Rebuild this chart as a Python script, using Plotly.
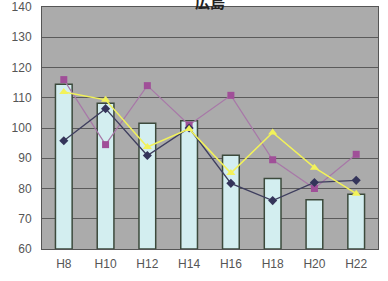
import plotly.graph_objects as go

categories = ["H8", "H10", "H12", "H14", "H16", "H18", "H20", "H22"]
bar_values = [114.5, 108.2, 101.6, 102.4, 91.0, 83.3, 76.3, 78.1]
pink_values = [116.0, 94.5, 114.0, 101.0, 110.8, 89.5, 80.0, 91.3]
navy_values = [95.8, 106.4, 90.9, 100.0, 81.7, 76.0, 82.0, 82.7]
yellow_values = [111.9, 109.3, 93.7, 99.7, 85.1, 98.5, 86.9, 78.3]
y_ticks = [60, 70, 80, 90, 100, 110, 120, 130, 140]
title_text = "広島"

fig = go.Figure()
fig.add_trace(go.Bar(
    x=categories, y=[v - 60 for v in bar_values], base=60, width=0.4,
    marker=dict(color="#d3eef0", line=dict(color="#3c4a3c", width=1.5)),
    showlegend=False,
))
fig.add_trace(go.Scatter(
    x=categories, y=pink_values, mode="lines+markers",
    line=dict(color="#a878a8", width=1.2),
    marker=dict(symbol="square", size=7, color="#a04f98"),
    showlegend=False,
))
fig.add_trace(go.Scatter(
    x=categories, y=navy_values, mode="lines+markers",
    line=dict(color="#3e3e5e", width=1.3),
    marker=dict(symbol="diamond", size=7, color="#34345a"),
    showlegend=False,
))
fig.add_trace(go.Scatter(
    x=categories, y=yellow_values, mode="lines+markers",
    line=dict(color="#f2f25a", width=1.5),
    marker=dict(symbol="triangle-up", size=8, color="#f2f25a"),
    showlegend=False,
))

fig.add_annotation(
    text="<b>" + title_text + "</b>", xref="paper", yref="paper", x=0.5, y=1.024,
    xanchor="center", yanchor="middle", showarrow=False,
    font=dict(family="Noto Sans CJK JP", size=15, color="#222222"),
)

fig.update_layout(
    width=388, height=281,
    margin=dict(l=42, r=10, t=7, b=31.5, autoexpand=False),
    paper_bgcolor="white", plot_bgcolor="#ababab",
    font=dict(family="Liberation Sans, Arial", size=12, color="#555555"),
    bargap=0.6,
)
fig.update_xaxes(
    showgrid=False, showline=True, linecolor="#555555", linewidth=1, mirror=True,
    ticks="", ticklabelstandoff=4, tickfont=dict(size=12, color="#555555"),
    automargin=False,
)
fig.update_yaxes(
    range=[60, 140], tickvals=y_ticks, showgrid=True, gridcolor="#5a5a5a", gridwidth=1,
    showline=True, linecolor="#555555", linewidth=1, mirror=True,
    ticks="", ticklabelstandoff=7, tickfont=dict(size=12, color="#555555"),
    zeroline=False, automargin=False,
)

fig.write_html(
    "out.html",
    config={"displayModeBar": False, "staticPlot": True},
    post_script="document.body.style.margin='0';document.body.style.padding='0';",
)
